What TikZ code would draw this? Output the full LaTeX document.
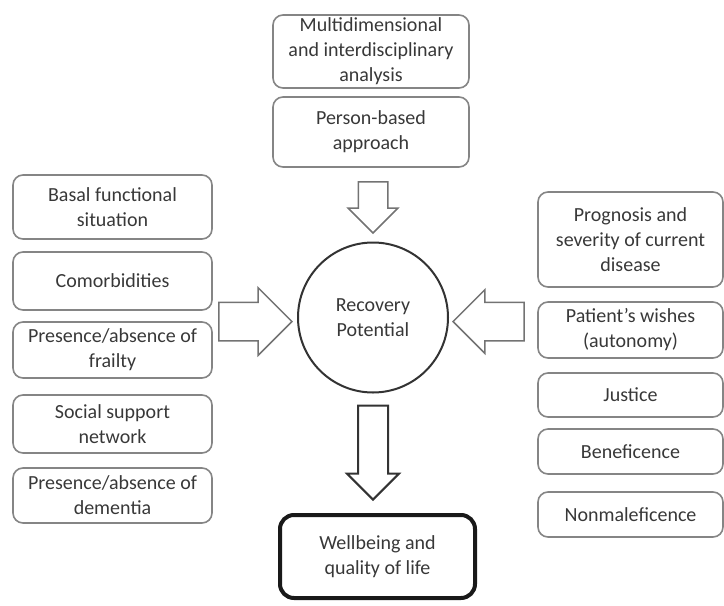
\documentclass[tikz,border=0pt]{standalone}
\usepackage{fontspec}
\setmainfont{Carlito}
\usepackage{tikz}
\usetikzlibrary{shapes.arrows,positioning}

\begin{document}
\begin{tikzpicture}[x=1pt, y=-1pt,
  factor/.style={draw=black!48, line width=1.6pt, rounded corners=10pt,
    align=center, text=black!78, inner sep=2pt,
    font=\fontsize{20}{25}\selectfont, minimum width=199pt},
  rightfactor/.style={factor, minimum width=185pt},
  core/.style={circle, draw=black!80, line width=2pt, minimum size=150pt,
    align=center, text=black!78, font=\fontsize{20}{25}\selectfont},
  outcome/.style={draw=black!90, line width=4pt, rounded corners=14pt,
    align=center, text=black!78, font=\fontsize{20}{25}\selectfont,
    minimum width=195pt, minimum height=83pt},
  bigarrow/.style={single arrow, draw=black!55, line width=1.5pt,
    single arrow head indent=0pt},
  harrow/.style={bigarrow, inner xsep=0pt, inner ysep=18.5pt},
  varrow/.style={bigarrow, inner ysep=0pt, inner xsep=14pt}
]
\useasboundingbox (0,0) rectangle (724,606);

% top inputs
\node[factor, minimum width=196pt, minimum height=73pt] (MA) at (371,51.5) {Multidimensional\\and interdisciplinary\\analysis};
\node[factor, minimum width=196pt, minimum height=70pt] (PB) at (371,132) {Person-based\\approach};

% centre and outcome
\node[core] (RP) at (373,317.5) {Recovery\\Potential};
\node[outcome] (WB) at (377.5,556.5) {Wellbeing and\\quality of life};

% left factors
\node[factor, minimum height=64pt] (BF) at (112.5,207) {Basal functional\\situation};
\node[factor, minimum height=58pt] (CM) at (112.5,281) {Comorbidities};
\node[factor, minimum height=56pt] (FR) at (112.5,350) {Presence/absence of\\frailty};
\node[factor, minimum height=58pt] (SS) at (112.5,424) {Social support\\network};
\node[factor, minimum height=55pt] (DM) at (112.5,495.5) {Presence/absence of\\dementia};

% right factors
\node[rightfactor, minimum height=95pt] (PG) at (630.5,239.5) {Prognosis and\\severity of current\\disease};
\node[rightfactor, minimum height=56pt] (PW) at (630.5,330) {Patient’s wishes\\(autonomy)};
\node[rightfactor, minimum height=44pt] (JU) at (630.5,395) {Justice};
\node[rightfactor, minimum height=45pt] (BE) at (630.5,451.5) {Beneficence};
\node[rightfactor, minimum height=45pt] (NM) at (630.5,514.5) {Nonmaleficence};

% block arrows
\node[varrow, shape border rotate=270, single arrow head extend=10pt,
  minimum height=51pt, anchor=tip] (topA) at (373,234) {};
\node[harrow, single arrow head extend=14.5pt, minimum height=73pt,
  anchor=tip] (leftA) at (293,321.5) {};
\node[harrow, shape border rotate=180, single arrow head extend=12.5pt,
  minimum height=71pt, anchor=tip] (rightA) at (452,321.5) {};
\node[varrow, draw=black!80, line width=2pt, shape border rotate=270,
  single arrow head extend=11pt, minimum height=94pt, anchor=tip] (downA) at (373,501) {};
\end{tikzpicture}
\end{document}
